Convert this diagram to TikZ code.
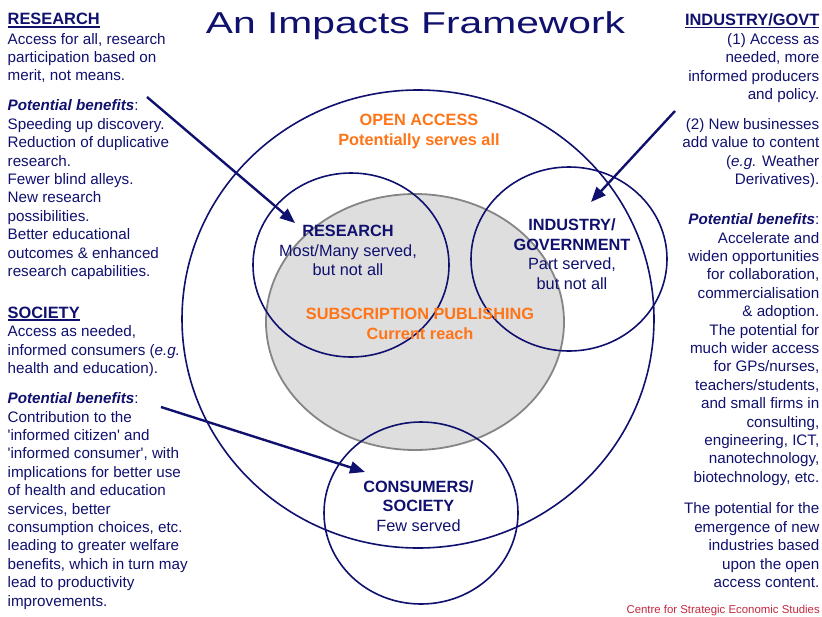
\documentclass[tikz,border=0pt]{standalone}
\usepackage{fontspec}
\setmainfont{Liberation Sans}
\usepackage{tikz}
\usetikzlibrary{arrows.meta}
\definecolor{navy}{HTML}{10106E}
\definecolor{accent}{HTML}{FF7417}
\definecolor{shade}{HTML}{DEDEDE}
\definecolor{rim}{HTML}{858585}
\definecolor{credit}{HTML}{C4283E}
\newsavebox{\headbox}
\newcommand{\colhead}[1]{{\fontsize{16.4}{18.4}\selectfont\bfseries\sbox\headbox{#1}\rlap{\rule[-2.6pt]{\wd\headbox}{1.4pt}}\usebox\headbox}}
\newcommand{\benefits}{\textbf{\textit{Potential benefits}}:}
\tikzset{
  ring/.style={line width=1.6pt, draw=navy},
  subs/.style={line width=1.8pt, draw=rim, fill=shade},
  pointer/.style={line width=2.4pt, draw=navy, -{Triangle[length=15pt,width=12pt]}},
  side/.style={text=navy, inner sep=0pt, font=\fontsize{15.2}{18.4}\selectfont},
  inlab/.style={text=navy, inner sep=0pt, align=center, anchor=north, font=\fontsize{16.3}{19.7}\selectfont},
  oalab/.style={inlab, text=accent, font=\fontsize{16.3}{19.7}\selectfont\bfseries},
}

\begin{document}
\begin{tikzpicture}[x=1pt,y=-1pt]
  \useasboundingbox (0,0) rectangle (822,616);

  \coordinate (oaC) at (418,319);   % open access
  \coordinate (subC) at (415,322);  % subscription
  \coordinate (resC) at (351,265);  % research
  \coordinate (indC) at (569,259);  % industry
  \coordinate (conC) at (421,513);  % consumers

  \draw[ring] (oaC) ellipse [x radius=236pt, y radius=229pt];
  \draw[subs] (subC) ellipse [x radius=149pt, y radius=128pt];
  \draw[ring] (resC) ellipse [x radius=98pt, y radius=92pt];
  \draw[ring] (indC) ellipse [x radius=98pt, y radius=92pt];
  \draw[ring] (conC) ellipse [x radius=97pt, y radius=91pt];

  \coordinate (resTail) at (147,97);
  \coordinate (resTip) at (295,223);
  \coordinate (indTail) at (675,111);
  \coordinate (indTip) at (591,202);
  \coordinate (conTail) at (161,407);
  \coordinate (conTip) at (365,472);
  \draw[pointer] (resTail) -- (resTip);
  \draw[pointer] (indTail) -- (indTip);
  \draw[pointer] (conTail) -- (conTip);

  \node[anchor=base, text=navy, inner sep=0pt, font=\fontsize{30.2}{36}\selectfont] (title) at (415.5,33.3)
    {\scalebox{1.35}[1]{An Impacts Framework}};

  \node[oalab] (oaLab) at (419,114) {OPEN ACCESS\\Potentially serves all};
  \node[inlab] (resLab) at (348,225) {\textbf{RESEARCH}\\Most/Many served,\\but not all};
  \node[inlab] (indLab) at (572,218.3) {\textbf{INDUSTRY/}\\\textbf{GOVERNMENT}\\Part served,\\but not all};
  \node[oalab] (subLab) at (420,308.3) {SUBSCRIPTION PUBLISHING\\Current reach};
  \node[inlab] (conLab) at (418.5,480) {\textbf{CONSUMERS/}\\\textbf{SOCIETY}\\Few served};

  % left column
  \node[side, align=left, anchor=north west] (resText) at (7.5,13.3) {\colhead{RESEARCH}\\[0.8pt]
    Access for all, research\\
    participation based on\\
    merit, not means.\\[11.6pt]
    \benefits\\
    Speeding up discovery.\\
    Reduction of duplicative\\
    research.\\
    Fewer blind alleys.\\
    New research\\
    possibilities.\\
    Better educational\\
    outcomes \& enhanced\\
    research capabilities.};
  \node[side, align=left, anchor=north west] (socText) at (7.5,306.6) {\colhead{SOCIETY}\\[0.2pt]
    Access as needed,\\
    informed consumers (\textit{e.g.}\\
    health and education).\\[11.6pt]
    \benefits\\
    Contribution to the\\
    \textquotesingle informed citizen\textquotesingle\ and\\
    \textquotesingle informed consumer\textquotesingle, with\\
    implications for better use\\
    of health and education\\
    services, better\\
    consumption choices, etc.\\
    leading to greater welfare\\
    benefits, which in turn may\\
    lead to productivity\\
    improvements.};

  % right column
  \node[side, align=right, anchor=north east] (indText) at (819.5,13.3) {\colhead{INDUSTRY/GOVT}\\[0.6pt]
    (1) Access as\\
    needed, more\\
    informed producers\\
    and policy.\\[11.6pt]
    (2) New businesses\\
    add value to content\\
    (\textit{e.g.} Weather\\
    Derivatives).\\[21.6pt]
    \benefits\\
    Accelerate and\\
    widen opportunities\\
    for collaboration,\\
    commercialisation\\
    \& adoption.\\
    The potential for\\
    much wider access\\
    for GPs/nurses,\\
    teachers/students,\\
    and small firms in\\
    consulting,\\
    engineering, ICT,\\
    nanotechnology,\\
    biotechnology, etc.\\[13.2pt]
    The potential for the\\
    emergence of new\\
    industries based\\
    upon the open\\
    access content.};

  \node[anchor=base east, text=credit, inner sep=0pt, font=\fontsize{11.4}{13}\selectfont] (creditLab) at (820,613.3)
    {Centre for Strategic Economic Studies};
\end{tikzpicture}
\end{document}
